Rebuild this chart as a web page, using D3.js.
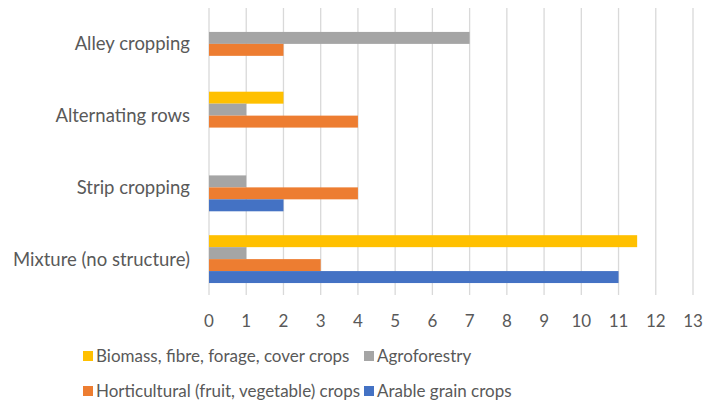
<!DOCTYPE html>
<html>
<head>
<meta charset="utf-8">
<script src="https://cdn.jsdelivr.net/npm/d3@7"></script>
<style>
  html, body { margin: 0; padding: 0; background: #fff; }
  svg { display: block; }
  text { font-family: Lato, "Liberation Sans", sans-serif; fill: #595959; }
</style>
</head>
<body>
<svg id="chart" width="705" height="403"></svg>
<script>
// Intercropping structure (top to bottom) and number of cases per crop type
const categories = ["Alley cropping", "Alternating rows", "Strip cropping", "Mixture (no structure)"];
const seriesNames = [
  "Biomass, fibre, forage, cover crops",
  "Agroforestry",
  "Horticultural (fruit, vegetable) crops",
  "Arable grain crops"
];
const biomass      = [0, 2, 0, 11.5];
const agroforestry = [7, 1, 1, 1];
const horticultural = [2, 4, 4, 3];
const arable       = [0, 0, 2, 11];
const seriesColors = ["#FFC000", "#A5A5A5", "#ED7D31", "#4472C4"];
const xTicks = d3.range(0, 14);

const seriesValues = [biomass, agroforestry, horticultural, arable];

const svg = d3.select("#chart");
const plot = { left: 209, right: 693, top: 8, bottom: 295 };

const x = d3.scaleLinear().domain([0, 13]).range([plot.left, plot.right]);
const y = d3.scaleBand().domain(categories).range([plot.top, plot.bottom])
  .paddingInner(0.333).paddingOuter(0.1667);
const ySub = d3.scaleBand().domain(seriesNames).range([0, y.bandwidth()]);

// vertical gridlines
svg.append("g").selectAll("line").data(xTicks).join("line")
  .attr("x1", d => x(d)).attr("x2", d => x(d))
  .attr("y1", plot.top).attr("y2", plot.bottom)
  .attr("stroke", "#D9D9D9").attr("stroke-width", 1.3);

// bars
const groups = svg.append("g").selectAll("g").data(categories).join("g")
  .attr("transform", d => `translate(0,${y(d)})`);
groups.selectAll("rect")
  .data((c, ci) => seriesNames.map((s, si) => ({ s, si, v: seriesValues[si][ci] })))
  .join("rect")
  .attr("x", x(0))
  .attr("y", d => ySub(d.s))
  .attr("width", d => x(d.v) - x(0))
  .attr("height", ySub.bandwidth())
  .attr("fill", d => seriesColors[d.si]);

// category labels
svg.append("g").selectAll("text").data(categories).join("text")
  .attr("x", 190)
  .attr("y", d => y(d) + y.bandwidth() / 2)
  .attr("dy", "0.35em")
  .attr("text-anchor", "end")
  .style("font-size", "18.5px")
  .text(d => d);

// x tick labels
svg.append("g").selectAll("text").data(xTicks).join("text")
  .attr("x", d => x(d))
  .attr("y", 321)
  .attr("dy", "0.35em")
  .attr("text-anchor", "middle")
  .style("font-size", "17px")
  .text(d => d);

// legend (two rows)
const legendPos = [
  { x: 83, y: 356 }, { x: 364, y: 356 },
  { x: 83, y: 391 }, { x: 364, y: 391 }
];
const legend = svg.append("g").selectAll("g").data(seriesNames).join("g")
  .attr("transform", (d, i) => `translate(${legendPos[i].x},${legendPos[i].y})`);
legend.append("rect")
  .attr("x", 0).attr("y", -5).attr("width", 10).attr("height", 10)
  .attr("fill", (d, i) => seriesColors[i]);
legend.append("text")
  .attr("x", 13).attr("dy", "0.35em")
  .style("font-size", "17px")
  .text(d => d);
</script>
</body>
</html>
